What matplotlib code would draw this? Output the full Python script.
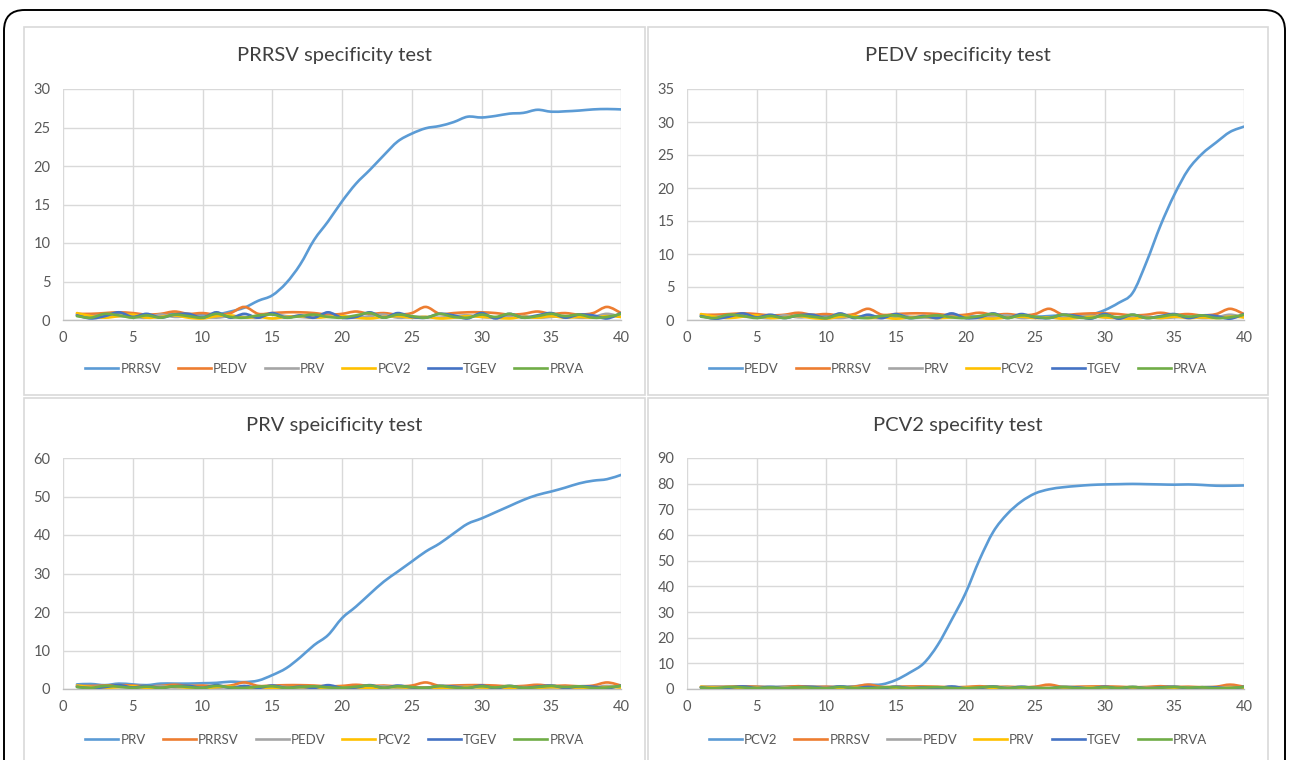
import numpy as np
import matplotlib
matplotlib.use('Agg')
import matplotlib.pyplot as plt
from matplotlib.path import Path
from matplotlib.patches import PathPatch, Rectangle, FancyBboxPatch
from matplotlib.lines import Line2D

plt.rcParams['font.family'] = ['Lato', 'DejaVu Sans']

cycles = list(range(1, 41))

# target curves (one per panel)
prrsv_main = [0.7, 0.6, 0.8, 0.9, 0.8, 0.6, 0.7, 0.8, 0.7, 0.6,
              0.7, 1.1, 1.6, 2.5, 3.2, 4.8, 7.2, 10.4, 12.8, 15.4,
              17.7, 19.5, 21.4, 23.2, 24.2, 24.9, 25.2, 25.7, 26.4, 26.3,
              26.5, 26.8, 26.9, 27.3, 27.05, 27.1, 27.2, 27.35, 27.4, 27.35]
pedv_main = [0.6, 0.5, 0.7, 0.6, 0.5, 0.6, 0.7, 0.6, 0.5, 0.6,
             0.7, 0.6, 0.5, 0.6, 0.4, 0.3, 0.4, 0.5, 0.6, 0.6,
             0.5, 0.6, 0.5, 0.6, 0.5, 0.6, 0.7, 0.6, 0.8, 1.5,
             2.6, 4.1, 8.8, 14.3, 19.0, 22.8, 25.2, 26.9, 28.5, 29.3]
prv_main = [1.2, 1.3, 1.0, 1.4, 1.2, 1.0, 1.4, 1.4, 1.4, 1.5,
            1.6, 1.9, 1.8, 2.2, 3.6, 5.4, 8.2, 11.4, 14.0, 18.4,
            21.4, 24.7, 27.9, 30.5, 33.1, 35.7, 37.8, 40.4, 42.9, 44.3,
            45.9, 47.5, 49.1, 50.4, 51.3, 52.3, 53.4, 54.1, 54.5, 55.6]
pcv2_main = [0.8, 0.9, 0.8, 1.0, 0.9, 0.8, 0.9, 1.0, 0.9, 0.8,
             0.9, 1.0, 1.6, 1.8, 3.5, 6.4, 10.0, 17.1, 26.9, 37.3,
             50.3, 61.3, 68.2, 73.0, 76.2, 77.8, 78.6, 79.1, 79.5, 79.7,
             79.8, 79.9, 79.8, 79.7, 79.6, 79.7, 79.5, 79.2, 79.2, 79.3]

# negative controls
orange_bg = [0.8, 0.8, 0.9, 1.0, 0.9, 0.7, 0.8, 1.1, 0.8, 0.9,
             0.7, 0.9, 1.7, 0.8, 0.9, 1.0, 1.0, 0.9, 0.7, 0.8,
             1.1, 0.8, 0.9, 0.7, 0.9, 1.7, 0.8, 0.9, 1.0, 1.0,
             0.9, 0.7, 0.8, 1.1, 0.8, 0.9, 0.7, 0.9, 1.7, 0.9]
gray_bg = [0.6, 0.5, 0.6, 0.5, 0.4, 0.3, 0.7, 0.4, 0.5, 0.4,
           0.3, 0.5, 0.4, 0.3, 0.8, 0.5, 0.4, 0.3, 0.5, 0.4,
           0.3, 0.5, 0.7, 0.3, 0.4, 0.4, 0.3, 0.5, 0.6, 0.4,
           0.3, 0.4, 0.5, 0.3, 0.4, 0.5, 0.3, 0.4, 0.8, 0.4]
yellow_bg = [0.9, 0.5, 0.3, 0.5, 0.7, 0.3, 0.4, 0.6, 0.3, 0.2,
             0.5, 0.6, 0.3, 0.4, 0.2, 0.4, 0.5, 0.3, 0.4, 0.5,
             0.3, 0.2, 0.4, 0.5, 0.3, 0.4, 0.2, 0.3, 0.5, 0.4,
             0.3, 0.2, 0.4, 0.3, 0.5, 0.3, 0.4, 0.3, 0.5, 0.4]
tgev_bg = [0.6, 0.2, 0.5, 1.0, 0.4, 0.8, 0.3, 0.7, 0.8, 0.3,
           1.0, 0.3, 0.8, 0.3, 0.9, 0.3, 0.6, 0.3, 1.0, 0.3,
           0.4, 1.0, 0.3, 0.9, 0.4, 0.3, 0.8, 0.6, 0.2, 0.9,
           0.2, 0.8, 0.3, 0.6, 0.9, 0.3, 0.7, 0.6, 0.2, 0.9]
prva_bg = [0.5, 0.3, 0.8, 0.6, 0.3, 0.6, 0.3, 0.7, 0.5, 0.3,
           0.8, 0.4, 0.3, 0.6, 0.7, 0.3, 0.5, 0.7, 0.4, 0.3,
           0.6, 0.9, 0.3, 0.7, 0.5, 0.3, 0.8, 0.4, 0.3, 0.7,
           0.4, 0.8, 0.3, 0.5, 0.8, 0.5, 0.7, 0.3, 0.4, 0.8]

colors = ['#5B9BD5', '#ED7D31', '#A5A5A5', '#FFC000', '#4472C4', '#70AD47']

panels = [
    ("PRRSV specificity test", 30, 5, ['PRRSV', 'PEDV', 'PRV', 'PCV2', 'TGEV', 'PRVA'], prrsv_main),
    ("PEDV specificity test", 35, 5, ['PEDV', 'PRRSV', 'PRV', 'PCV2', 'TGEV', 'PRVA'], pedv_main),
    ("PRV speicificity test", 60, 10, ['PRV', 'PRRSV', 'PEDV', 'PCV2', 'TGEV', 'PRVA'], prv_main),
    ("PCV2 specifity test", 90, 10, ['PCV2', 'PRRSV', 'PEDV', 'PRV', 'TGEV', 'PRVA'], pcv2_main),
]

W, H = 1290, 760


def smooth_line(ax, x, y, color):
    # excel style smoothed line: bezier segments through the points
    pts = np.column_stack([np.asarray(x, float), np.asarray(y, float)])
    n = len(pts)
    verts = [pts[0]]
    codes = [Path.MOVETO]
    for i in range(n - 1):
        p0 = pts[i - 1] if i > 0 else pts[i]
        p3 = pts[i + 2] if i + 2 < n else pts[i + 1]
        c1 = pts[i] + (pts[i + 1] - p0) / 6
        c2 = pts[i + 1] - (p3 - pts[i]) / 6
        verts += [c1, c2, pts[i + 1]]
        codes += [Path.CURVE4] * 3
    ax.add_patch(PathPatch(Path(verts, codes), fill=False, edgecolor=color,
                           lw=1.9, capstyle='round', joinstyle='round', zorder=3))


fig = plt.figure(figsize=(W / 100, H / 100), dpi=100)
fig.patch.set_facecolor('white')

# outer rounded frame
fig.patches.append(FancyBboxPatch((4 / W, -40 / H), 1281 / W, 790 / H,
                                  boxstyle='round,pad=0,rounding_size=0.016',
                                  transform=fig.transFigure, fill=False,
                                  edgecolor='black', lw=1.4, mutation_aspect=W / H))

# panel boxes (px: left, top, right, bottom)
boxes = [(24, 27, 645, 395), (648, 27, 1268, 395), (24, 398, 645, 775), (648, 398, 1268, 775)]
plot_areas = [(63, 89, 621, 320), (687, 89, 1244, 320), (63, 458, 621, 689), (687, 458, 1244, 689)]
title_y = [56, 56, 425, 425]
legend_y = [369, 369, 740, 740]

for k, (title, ymax, ystep, names, main) in enumerate(panels):
    bl, bt, br, bb = boxes[k]
    fig.patches.append(Rectangle((bl / W, 1 - bb / H), (br - bl) / W, (bb - bt) / H,
                                 transform=fig.transFigure, fill=False,
                                 edgecolor='#D9D9D9', lw=1.2))
    l, t, r, b = plot_areas[k]
    ax = fig.add_axes([l / W, 1 - b / H, (r - l) / W, (b - t) / H])
    series = [main, orange_bg, gray_bg, yellow_bg, tgev_bg, prva_bg]
    for s, c in zip(series, colors):
        smooth_line(ax, cycles, s, c)
    ax.set_xlim(0, 40)
    ax.set_ylim(0, ymax)
    ax.set_xticks(range(0, 41, 5))
    ax.set_yticks(range(0, ymax + 1, ystep))
    ax.grid(True, color='#D9D9D9', lw=1.0)
    ax.set_axisbelow(True)
    for side in ['top', 'right', 'left']:
        ax.spines[side].set_visible(False)
    ax.spines['bottom'].set_color('#BFBFBF')
    ax.spines['bottom'].set_linewidth(1.0)
    ax.tick_params(length=0, labelsize=10.5, labelcolor='#595959', pad=8)
    ax.tick_params(axis='y', pad=9)
    fig.text((bl + br) / 2 / W, 1 - title_y[k] / H, title, ha='center', va='center',
             fontsize=14.5, color='#404040')
    handles = [Line2D([], [], color=c, lw=1.9) for c in colors]
    fig.legend(handles, names, loc='center', bbox_to_anchor=((bl + br) / 2 / W, 1 - legend_y[k] / H),
               ncol=6, frameon=False, fontsize=9.5, labelcolor='#595959',
               handlelength=2.5, handletextpad=0.15, columnspacing=1.3)

fig.savefig('out.png', dpi=100, facecolor='white')
